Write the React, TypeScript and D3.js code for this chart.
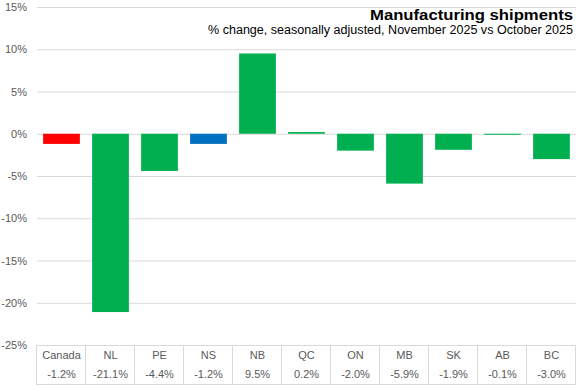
import React from "react";
import * as d3 from "d3";

const categories = ["Canada", "NL", "PE", "NS", "NB", "QC", "ON", "MB", "SK", "AB", "BC"];
const values = [-1.2, -21.1, -4.4, -1.2, 9.5, 0.2, -2.0, -5.9, -1.9, -0.1, -3.0];
const valueLabels = ["-1.2%", "-21.1%", "-4.4%", "-1.2%", "9.5%", "0.2%", "-2.0%", "-5.9%", "-1.9%", "-0.1%", "-3.0%"];
const barColors = ["#FF0000", "#00B050", "#00B050", "#0070C0", "#00B050", "#00B050", "#00B050", "#00B050", "#00B050", "#00B050", "#00B050"];
const yTicks = [15, 10, 5, 0, -5, -10, -15, -20, -25];
const title = "Manufacturing shipments";
const subtitle = "% change, seasonally adjusted, November  2025 vs October 2025";

const W = 577;
const H = 385;
const FONT = "'Liberation Sans Narrow', 'Liberation Sans', Arial, sans-serif";

export default function App() {
  const left = 37;
  const right = 576;
  const x = d3.scaleBand<string>().domain(categories).range([left, right]).paddingInner(0.25).paddingOuter(0.125);
  const y = d3.scaleLinear().domain([-25, 15]).range([345, 7]);
  const step = x.step();
  const tableTop = y(-25);
  const tableBottom = 384;

  return (
    <svg width={W} height={H} style={{ position: "absolute", left: 0, top: 0, background: "#fff" }} fontFamily={FONT}>
      {yTicks.map((t) => (
        <g key={t}>
          <line x1={t === -25 ? 36 : left} x2={right} y1={y(t) + 0.5} y2={y(t) + 0.5} stroke="#D9D9D9" strokeWidth={1} />
          <text x={27} y={y(t) + 4} textAnchor="end" fontSize={11} fill="#595959">
            {t + "%"}
          </text>
        </g>
      ))}
      {categories.map((c, i) => {
        const v = values[i];
        const y0 = y(Math.max(0, v));
        const y1 = y(Math.min(0, v));
        return (
          <rect key={c} x={x(c)} y={y0} width={x.bandwidth()} height={Math.max(1, y1 - y0)} fill={barColors[i]} />
        );
      })}
      {d3.range(categories.length + 1).map((i) => (
        <line key={"v" + i} x1={left - 1 + i * step + 0.5} x2={left - 1 + i * step + 0.5} y1={tableTop} y2={tableBottom} stroke="#D9D9D9" />
      ))}
      <line x1={36} x2={right} y1={tableBottom + 0.5} y2={tableBottom + 0.5} stroke="#D9D9D9" />
      {categories.map((c, i) => (
        <g key={"t" + c}>
          <text x={x(c)! + x.bandwidth() / 2} y={359} textAnchor="middle" fontSize={11} fill="#595959">
            {c}
          </text>
          <text x={x(c)! + x.bandwidth() / 2} y={378} textAnchor="middle" fontSize={11} fill="#595959">
            {valueLabels[i]}
          </text>
        </g>
      ))}
      <text x={573} y={19.5} textAnchor="end" fontSize={14} fontWeight="bold" fill="#000" textLength={203} lengthAdjust="spacingAndGlyphs">
        {title}
      </text>
      <text x={573} y={34} textAnchor="end" fontSize={12} fill="#000" textLength={365} lengthAdjust="spacingAndGlyphs">
        {subtitle}
      </text>
    </svg>
  );
}
